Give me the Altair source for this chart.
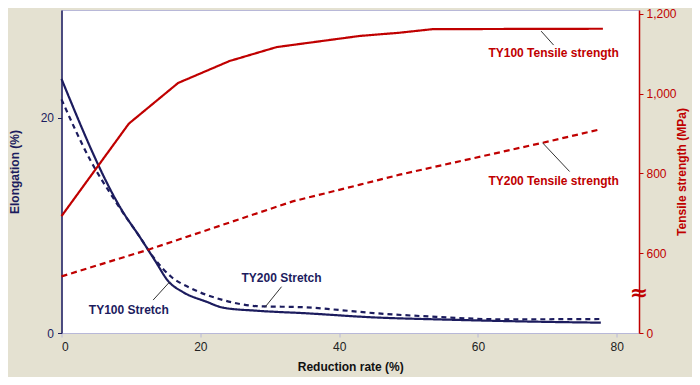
import altair as alt
import pandas as pd

# ---- data ----
x_ty100_stretch = [0, 8.7, 11.3, 13.4, 15.4, 17.5, 20.9, 23.3, 28.1, 35.3, 45, 55, 68.4, 77.7]
y_ty100_stretch = [23.6, 11.4, 8.9, 6.8, 4.8, 3.8, 2.9, 2.35, 2.07, 1.83, 1.45, 1.25, 1.05, 0.96]
x_ty200_stretch = [0, 4.2, 7.7, 11.3, 13.4, 15.85, 18.5, 23.3, 28.1, 35.3, 40.1, 45, 54, 63.6, 77.5]
y_ty200_stretch = [21.7, 16.0, 12.3, 8.9, 6.9, 5.2, 4.2, 3.06, 2.5, 2.38, 2.13, 1.85, 1.5, 1.27, 1.3]
x_ty100_tensile = [0, 9.7, 16.8, 24.2, 31, 43, 48.7, 53.5, 78]
y_ty100_tensile = [693, 925, 1027, 1082, 1117, 1145, 1153, 1162, 1163]
x_ty200_tensile = [0, 12.7, 33.3, 43, 48.7, 69.3, 77.2]
y_ty200_tensile = [542, 610, 730, 772, 797, 877, 909]

x_ticks = [0, 20, 40, 60, 80]
left_ticks = [0, 20]
right_ticks = [400, 600, 800, 1000, 1200]

# annotations (label position and leader line, in data units)
stretch_labels = ["TY100 Stretch", "TY200 Stretch"]
stretch_label_x = [9.7, 31.7]
stretch_label_y = [2.18, 5.1]
stretch_leader = [(13.2, 3.06, 15.6, 4.76), (29.3, 2.38, 31.7, 4.3)]
tensile_labels = ["TY100 Tensile strength", "TY200 Tensile strength"]
tensile_label_x = [70.9, 70.9]
tensile_label_y = [1103, 780]
tensile_leader = [(69.1, 1157, 70.9, 1122), (69.3, 877, 73.2, 805)]

NAVY = "#1c1c5e"
RED = "#c00000"
FONT = "Liberation Sans"

stretch = pd.concat([
    pd.DataFrame({"x": x_ty100_stretch, "y": y_ty100_stretch, "series": "TY100"}),
    pd.DataFrame({"x": x_ty200_stretch, "y": y_ty200_stretch, "series": "TY200"}),
])
tensile = pd.concat([
    pd.DataFrame({"x": x_ty100_tensile, "y": y_ty100_tensile, "series": "TY100"}),
    pd.DataFrame({"x": x_ty200_tensile, "y": y_ty200_tensile, "series": "TY200"}),
])
s_lab = pd.DataFrame({"x": stretch_label_x, "y": stretch_label_y, "t": stretch_labels})
t_lab = pd.DataFrame({"x": tensile_label_x, "y": tensile_label_y, "t": tensile_labels})
s_lead = pd.DataFrame(stretch_leader, columns=["x", "y", "x2", "y2"])
t_lead = pd.DataFrame(tensile_leader, columns=["x", "y", "x2", "y2"])
brk = pd.DataFrame({"x": [83.2], "y": [500], "t": ["≈"]})

xscale = alt.Scale(domain=[0, 83.2], nice=False, zero=False)
xaxis = alt.Axis(values=x_ticks, title="Reduction rate (%)", labelColor="#222222",
                 titleColor="#111111", domainColor="#b8b8d8", tickColor="#b8b8d8",
                 tickSize=4, labelPadding=4, titlePadding=9, grid=False)
yl_scale = alt.Scale(domain=[0, 30], nice=False)
yl_axis = alt.Axis(values=left_ticks, title="Elongation (%)", orient="left",
                   labelColor=NAVY, titleColor=NAVY, domainColor=NAVY, tickColor=NAVY,
                   tickSize=4, labelPadding=4, titlePadding=19, grid=False, domainWidth=1.5)
yr_scale = alt.Scale(domain=[400, 1210], nice=False, zero=False)
yr_axis = alt.Axis(values=right_ticks, title="Tensile strength (MPa)", orient="right",
                   labelExpr="datum.value == 400 ? '0' : format(datum.value, ',')",
                   labelColor=RED, titleColor=RED, domainColor=RED, tickColor=RED,
                   tickSize=4, labelPadding=3, titlePadding=12, titleAngle=270,
                   grid=False, domainWidth=1.5)

dash_scale = alt.Scale(domain=["TY100", "TY200"], range=[[1, 0], [5, 4]])
dash_scale_r = alt.Scale(domain=["TY100", "TY200"], range=[[1, 0], [6, 4]])

left = alt.layer(
    alt.Chart(stretch).mark_line(color=NAVY, strokeWidth=2.2, interpolate="monotone").encode(
        x=alt.X("x:Q", scale=xscale, axis=xaxis),
        y=alt.Y("y:Q", scale=yl_scale, axis=yl_axis),
        strokeDash=alt.StrokeDash("series:N", scale=dash_scale, legend=None),
        detail="series:N",
    ),
    alt.Chart(s_lead).mark_rule(color="#333333", strokeWidth=1).encode(
        x="x:Q", y="y:Q", x2="x2:Q", y2="y2:Q"),
    alt.Chart(s_lab).mark_text(color=NAVY, font=FONT, fontWeight="bold", fontSize=12).encode(
        x="x:Q", y="y:Q", text="t:N"),
)

right = alt.layer(
    alt.Chart(tensile).mark_line(color=RED, strokeWidth=2.2).encode(
        x=alt.X("x:Q", scale=xscale, axis=xaxis),
        y=alt.Y("y:Q", scale=yr_scale, axis=yr_axis),
        strokeDash=alt.StrokeDash("series:N", scale=dash_scale_r, legend=None),
        detail="series:N",
    ),
    alt.Chart(t_lead).mark_rule(color="#333333", strokeWidth=1).encode(
        x="x:Q", y="y:Q", x2="x2:Q", y2="y2:Q"),
    alt.Chart(t_lab).mark_text(color=RED, font=FONT, fontWeight="bold", fontSize=12).encode(
        x="x:Q", y="y:Q", text="t:N"),
    alt.Chart(brk).mark_text(color=RED, font="DejaVu Sans", fontWeight="bold", fontSize=22).encode(
        x="x:Q", y="y:Q", text="t:N"),
)

chart = alt.layer(left, right).resolve_scale(y="independent", strokeDash="independent").properties(
    width=577.5, height=323,
    autosize=alt.AutoSizeParams(type="none"),
    padding={"left": 53.5, "top": 2, "right": 53, "bottom": 44},
    background="#e4e1d1",
).configure_view(fill="white", stroke="#b8b8d8", strokeWidth=1).configure_axis(
    labelFont=FONT, titleFont=FONT, labelFontSize=12, titleFontSize=12, titleFontWeight="bold",
)

chart.save("out.html", embed_options={"renderer": "svg", "actions": False})
